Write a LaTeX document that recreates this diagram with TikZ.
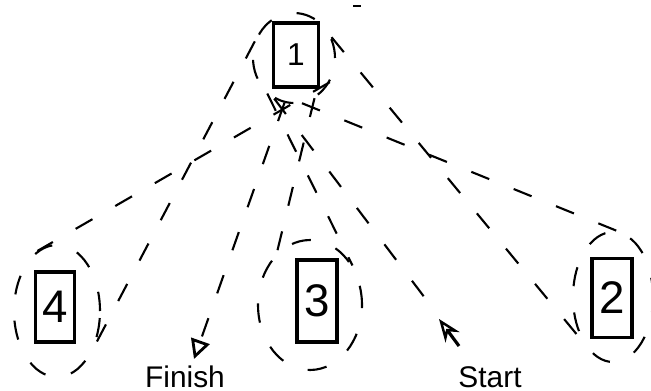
\documentclass[tikz,border=0pt]{standalone}
\usepackage{fontspec}
\setmainfont{Liberation Sans}
\usetikzlibrary{arrows.meta,shapes.geometric}

\begin{document}
\begin{tikzpicture}[x=0.02cm,y=-0.02cm,
  box/.style={draw,line width=2.1pt,inner sep=0pt,
              font=\fontsize{26}{26}\selectfont},
  ring/.style={draw,ellipse,inner sep=0pt,line width=1.2pt,
               dash pattern=on 11pt off 15pt},
  dline/.style={line width=1.2pt,dash pattern=on 11pt off 15pt},
  lbl/.style={font=\fontsize{17}{17}\selectfont,inner sep=0pt,anchor=base},
  arr/.style={-{Stealth[open,length=13pt,width=10pt,line width=1.4pt]},line width=1.8pt},
]
  \useasboundingbox (0,0) rectangle (651,391);

  % Top room
  \node[ring,minimum width=1.64cm,minimum height=1.8cm] (e1) at (294,58) {};
  \node[box,font=\fontsize{18}{18}\selectfont,
        minimum width=0.9cm,minimum height=1.28cm] (n1) at (296,55) {1};

  % Bottom rooms
  \node[ring,minimum width=1.72cm,minimum height=2.64cm] (e4) at (57,311) {};
  \node[box,minimum width=0.78cm,minimum height=1.4cm] (n4) at (55,307) {4};

  \node[ring,minimum width=2.08cm,minimum height=2.6cm] (e3) at (310,305) {};
  \node[box,minimum width=0.8cm,minimum height=1.64cm] (n3) at (317,301) {3};

  \node[ring,minimum width=1.6cm,minimum height=2.6cm] (e2) at (613,297) {};
  \node[box,minimum width=0.8cm,minimum height=1.58cm] (n2) at (612,298) {2};

  % Labels
  \node[lbl] (fin) at (185,387) {Finish};
  \node[lbl] (st) at (490,387) {Start};

  \coordinate (fintip) at (194,359);
  \coordinate (stend) at (425,298);
  \coordinate (sttip) at (439,319);
  \coordinate (sttail) at (459,346);

  % Crossing lines to each room
  \draw[dline] (e1.157) -- (e4.-43);
  \draw[dline] (e1.-34) -- (e4.108);
  \draw[dline] (e1.-127) -- (e3.43);
  \draw[dline] (e1.-63) -- (e3.123);
  \draw[dline] (e1.29) -- (e2.236);
  \draw[dline] (e1.-80) -- (e2.85);

  % Finish and start
  \draw[dline,-{Triangle[open,length=11pt,width=11pt,line width=1.6pt]}] (e1.-102) -- (fintip);
  \draw[dline] (e1.-116) -- (stend);
  \draw[arr] (sttail) -- (sttip);

  % stray mark
  \draw[line width=1.2pt] (353,6) -- (361,6);
\end{tikzpicture}
\end{document}
